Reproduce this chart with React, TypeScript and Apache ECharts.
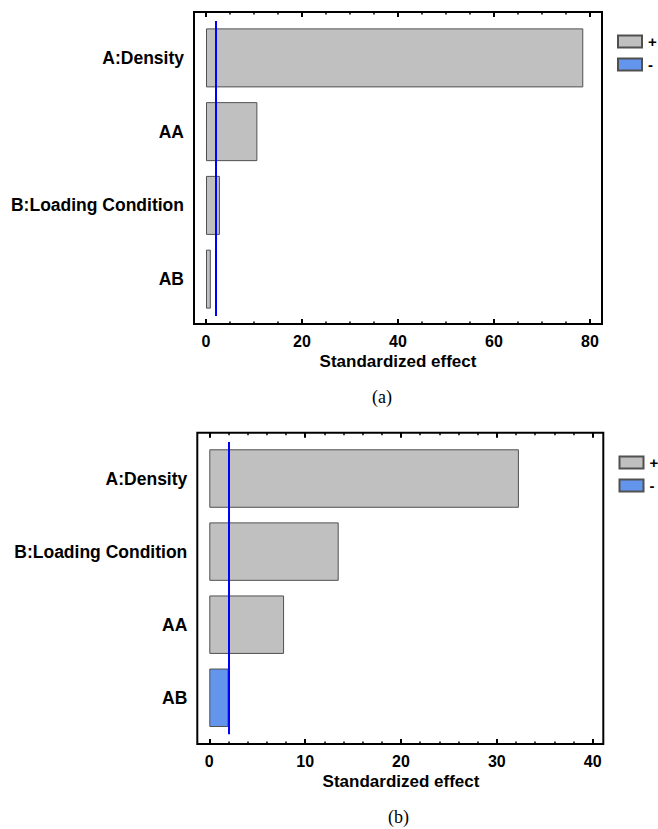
import React, { useEffect, useRef } from "react";
import * as echarts from "echarts";

// Chart (a)
const categoriesA = ["A:Density", "AA", "B:Loading Condition", "AB"];
const positiveA: (number | null)[] = [78.6, 10.7, 2.9, 1.0];
const negativeA: (number | null)[] = [null, null, null, null];
const criticalA = 2.08;
const ticksA = { min: 0, max: 80, interval: 20, minorSplit: 4 };

// Chart (b)
const categoriesB = ["A:Density", "B:Loading Condition", "AA", "AB"];
const positiveB: (number | null)[] = [32.3, 13.5, 7.8, null];
const negativeB: (number | null)[] = [null, null, null, 2.0];
const criticalB = 2.03;
const ticksB = { min: 0, max: 40, interval: 10, minorSplit: 5 };

const legendNames = ["+", "-"];
const axisName = "Standardized effect";
const captions = ["(a)", "(b)"];

const FONT = "Liberation Sans, Arial, sans-serif";
const GRAY = "#c0c0c0";
const BLUE = "#6495ed";
const EDGE = "#505050";

function frameAxes() {
  return {
    x: { type: "value", show: false, min: 0, max: 1 },
    y: { type: "value", show: false, min: 0, max: 1 },
  };
}

function dataXAxis(grid: number, t: any, position: "top" | "bottom", offset: number, labels: boolean) {
  return {
    type: "value",
    gridIndex: grid,
    position,
    offset,
    min: t.min,
    max: t.max,
    interval: t.interval,
    axisLine: { show: false },
    axisTick: { show: true, inside: true, length: 5, lineStyle: { color: "#000", width: 2 } },
    minorTick: { show: true, splitNumber: t.minorSplit, length: 2.5, lineStyle: { color: "#000", width: 1.5 } },
    splitLine: { show: false },
    axisLabel: labels
      ? { show: true, margin: 9, color: "#000", fontSize: 16, fontWeight: "bold", fontFamily: FONT }
      : { show: false },
    name: labels ? axisName : "",
    nameLocation: "middle",
    nameGap: 29,
    nameTextStyle: { color: "#000", fontSize: 17, fontWeight: "bold", fontFamily: FONT },
  };
}

function catYAxis(grid: number, cats: string[]) {
  return {
    type: "category",
    gridIndex: grid,
    data: cats,
    inverse: true,
    axisLine: { show: false },
    axisTick: { show: false },
    splitLine: { show: false },
    axisLabel: { margin: 22, color: "#000", fontSize: 17.5, fontWeight: "bold", fontFamily: FONT },
  };
}

function barSeries(name: string, xi: number, yi: number, data: (number | null)[], color: string, crit?: number) {
  const s: any = {
    type: "bar",
    name,
    xAxisIndex: xi,
    yAxisIndex: yi,
    stack: "s" + xi,
    data,
    barWidth: "80%",
    itemStyle: { color, borderColor: EDGE, borderWidth: 1 },
    silent: true,
  };
  if (crit !== undefined) {
    s.markLine = {
      silent: true,
      symbol: "none",
      label: { show: false },
      lineStyle: { color: "#0000ff", width: 2, type: "solid" },
      data: [{ xAxis: crit }],
    };
  }
  return s;
}

function legendAt(left: number, top: number) {
  return {
    data: legendNames,
    orient: "vertical",
    left,
    top,
    padding: 0,
    itemWidth: 24,
    itemHeight: 12,
    itemGap: 8,
    icon: "rect",
    selectedMode: false,
    textStyle: { color: "#000", fontSize: 15, fontWeight: "bold", fontFamily: FONT, padding: [0, 0, 0, 1] },
  };
}

export default function App() {
  const ref = useRef<HTMLDivElement>(null);
  useEffect(() => {
    if (!ref.current) return;
    const chart = echarts.init(ref.current, null, { renderer: "svg" });
    const fa = frameAxes();
    const fb = frameAxes();
    const option: any = {
      animation: false,
      backgroundColor: "#fff",
      grid: [
        { left: 194, top: 12, width: 408, height: 312, show: true, borderColor: "#000", borderWidth: 2, backgroundColor: "transparent" },
        { left: 206, top: 21, width: 384, height: 295 },
        { left: 197.3, top: 432.7, width: 406, height: 311.3, show: true, borderColor: "#000", borderWidth: 2, backgroundColor: "transparent" },
        { left: 209.3, top: 442, width: 383.4, height: 292.3 },
      ],
      xAxis: [
        { ...fa.x, gridIndex: 0 },
        dataXAxis(1, ticksA, "bottom", 8, true),
        dataXAxis(1, ticksA, "top", 9, false),
        { ...fb.x, gridIndex: 2 },
        dataXAxis(3, ticksB, "bottom", 9.7, true),
        dataXAxis(3, ticksB, "top", 9.3, false),
      ],
      yAxis: [
        { ...fa.y, gridIndex: 0 },
        catYAxis(1, categoriesA),
        { ...fb.y, gridIndex: 2 },
        catYAxis(3, categoriesB),
      ],
      legend: [legendAt(617, 34), legendAt(618.5, 455)],
      graphic: [
        {
          type: "text",
          left: 372,
          top: 388,
          style: { text: captions[0], fontSize: 18, fontFamily: "Liberation Serif, Times New Roman, serif", fill: "#000" },
        },
        {
          type: "text",
          left: 388,
          top: 808,
          style: { text: captions[1], fontSize: 18, fontFamily: "Liberation Serif, Times New Roman, serif", fill: "#000" },
        },
      ],
      series: [
        barSeries(legendNames[0], 1, 1, positiveA, GRAY, criticalA),
        barSeries(legendNames[1], 1, 1, negativeA, BLUE),
        barSeries(legendNames[0], 4, 3, positiveB, GRAY, criticalB),
        barSeries(legendNames[1], 4, 3, negativeB, BLUE),
      ],
    };
    chart.setOption(option);
    return () => chart.dispose();
  }, []);
  return <div ref={ref} style={{ position: "absolute", left: 0, top: 0, width: 658, height: 829 }} />;
}
